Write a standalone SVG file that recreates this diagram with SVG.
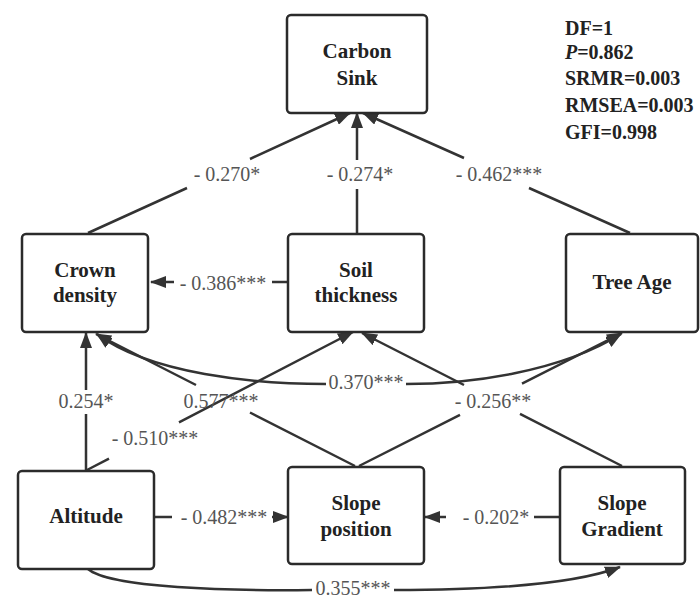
<svg xmlns="http://www.w3.org/2000/svg" width="700" height="599" viewBox="0 0 700 599">
<style>
.box{fill:#fff;stroke:#2b2b2b;stroke-width:2.5}
.nt{font-family:'Liberation Serif','DejaVu Serif',serif;font-weight:bold;font-size:21px;fill:#222;text-anchor:middle}
.st{font-family:'Liberation Serif','DejaVu Serif',serif;font-weight:bold;font-size:20px;fill:#222}
.lb{font-family:'Liberation Serif','DejaVu Serif',serif;font-size:20px;fill:#555;text-anchor:middle}
.ln{fill:none;stroke:#333;stroke-width:2.5}
</style>
<defs>
<marker id="ah" viewBox="0 0 16 12" refX="15" refY="6" markerWidth="16" markerHeight="12" markerUnits="userSpaceOnUse" orient="auto-start-reverse">
<path d="M0,0 L16,6 L0,12 Z" fill="#333"/>
</marker>
</defs>
<rect width="700" height="599" fill="#fff"/>
<g id="connectors">
<path class="ln" d="M88 233 L187 188 M250 159 L350 113" marker-end="url(#ah)"/>
<path class="ln" d="M357 233 L357 189 M357 160 L357 113" marker-end="url(#ah)"/>
<path class="ln" d="M630 233 L529 188 M464 158 L363 113" marker-end="url(#ah)"/>
<path class="ln" d="M288 282 L272 282 M174 282 L151 282" marker-end="url(#ah)"/>
<path class="ln" d="M86 470 L86 414 M86 390 L86 333" marker-end="url(#ah)"/>
<path class="ln" d="M87 470 L109 458.6 M179 422.3 L353 332" marker-end="url(#ah)"/>
<path class="ln" d="M355 466 L250 412.5 M196 385 L96 334" marker-end="url(#ah)"/>
<path class="ln" d="M359 466 L460 414.9 M522 383.6 L622 333" marker-end="url(#ah)"/>
<path class="ln" d="M622 466 L520 413.8 M464 385 L362 333" marker-end="url(#ah)"/>
<path class="ln" d="M154 517 L172 517 M272 517 L288 517" marker-end="url(#ah)"/>
<path class="ln" d="M560 517 L534 517 M446 517 L425 517" marker-end="url(#ah)"/>
<path class="ln" d="M97 334 C150 374 255 384 326 384" marker-start="url(#ah)"/>
<path class="ln" d="M406 384 C470 384 560 372 621 334" marker-end="url(#ah)"/>
<path class="ln" d="M88 569 C110 588 230 591 312 590"/>
<path class="ln" d="M394 590 C470 590 570 586 620 567" marker-end="url(#ah)"/>
</g>
<g id="labels">
<text class="lb" x="227" y="181">- 0.270*</text>
<text class="lb" x="360" y="181">- 0.274*</text>
<text class="lb" x="499" y="181">- 0.462***</text>
<text class="lb" x="223" y="290">- 0.386***</text>
<text class="lb" x="366" y="389">0.370***</text>
<text class="lb" x="86" y="408">0.254*</text>
<text class="lb" x="221" y="408">0.577***</text>
<text class="lb" x="493" y="408">- 0.256**</text>
<text class="lb" x="155" y="445">- 0.510***</text>
<text class="lb" x="224" y="524">- 0.482***</text>
<text class="lb" x="496" y="524">- 0.202*</text>
<text class="lb" x="353" y="595">0.355***</text>
</g>
<g id="carbon-sink">
<rect class="box" x="287" y="15" width="140" height="98" rx="4"/>
<text class="nt" x="357" y="58">Carbon</text>
<text class="nt" x="357" y="85">Sink</text>
</g>
<g id="crown-density">
<rect class="box" x="22" y="234" width="126" height="98" rx="4"/>
<text class="nt" x="85" y="277">Crown</text>
<text class="nt" x="85" y="302">density</text>
</g>
<g id="soil-thickness">
<rect class="box" x="288" y="234" width="136" height="98" rx="4"/>
<text class="nt" x="356" y="277">Soil</text>
<text class="nt" x="356" y="302">thickness</text>
</g>
<g id="tree-age">
<rect class="box" x="566" y="234" width="132" height="98" rx="4"/>
<text class="nt" x="632" y="289">Tree Age</text>
</g>
<g id="altitude">
<rect class="box" x="18" y="471" width="136" height="98" rx="4"/>
<text class="nt" x="86" y="523">Altitude</text>
</g>
<g id="slope-position">
<rect class="box" x="288" y="467" width="136" height="97" rx="4"/>
<text class="nt" x="356" y="510">Slope</text>
<text class="nt" x="356" y="536">position</text>
</g>
<g id="slope-gradient">
<rect class="box" x="560" y="467" width="125" height="97" rx="4"/>
<text class="nt" x="622" y="510">Slope</text>
<text class="nt" x="622" y="536">Gradient</text>
</g>
<g id="fit-stats">
<text class="st" x="565" y="35">DF=1</text>
<text class="st" x="565" y="59"><tspan font-style="italic">P</tspan>=0.862</text>
<text class="st" x="565" y="85">SRMR=0.003</text>
<text class="st" x="565" y="112">RMSEA=0.003</text>
<text class="st" x="565" y="139">GFI=0.998</text>
</g>
</svg>
